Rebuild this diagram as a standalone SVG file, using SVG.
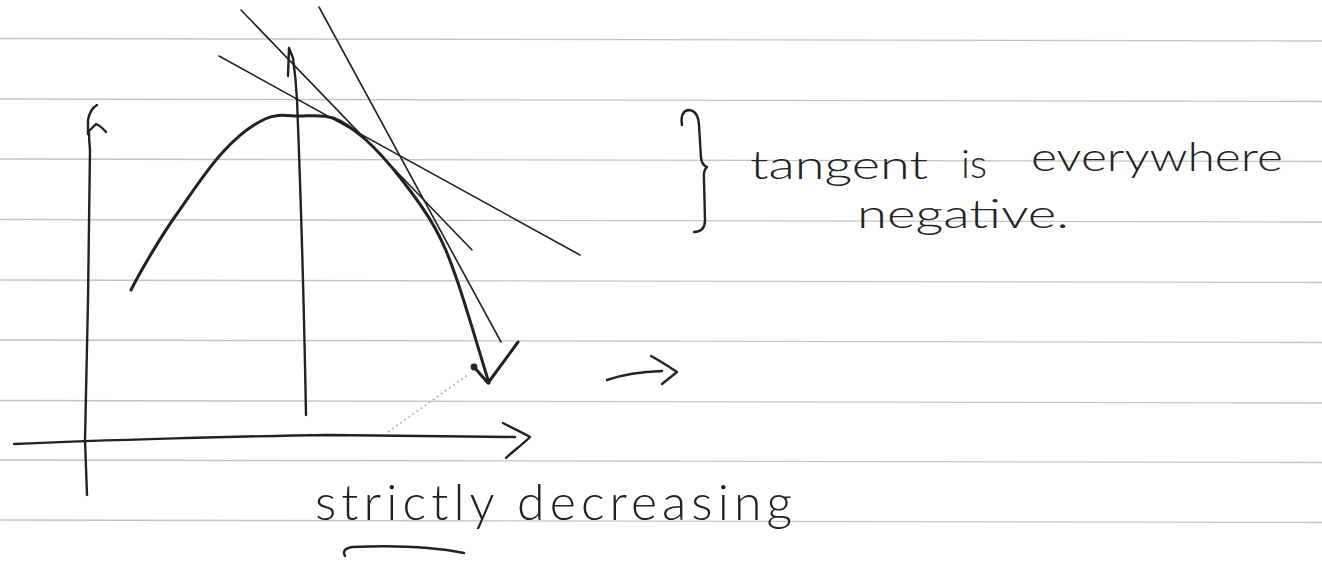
<svg xmlns="http://www.w3.org/2000/svg" width="1322" height="561" viewBox="0 0 1322 561">
<style>
.rule{stroke:#c4c4c4;stroke-width:1.3;fill:none}
.ink{stroke:#222;fill:none;stroke-linecap:round;stroke-linejoin:round}
.thick{stroke-width:3}
.med{stroke-width:2.4}
.thin{stroke-width:1.6}
.hand{font-family:Lato,"Open Sans","DejaVu Sans",sans-serif;font-weight:300;fill:#222}
.note{font-size:40px}
.faint{stroke:#b0b0b0;stroke-width:1.6;stroke-dasharray:2 3;fill:none}
</style>
<rect width="1322" height="561" fill="#fff"/>
<g id="paper">
<line class="rule" x1="0" y1="38.5" x2="1322" y2="41"/>
<line class="rule" x1="0" y1="99" x2="1322" y2="101.5"/>
<line class="rule" x1="0" y1="159" x2="1322" y2="161.5"/>
<line class="rule" x1="0" y1="219.5" x2="1322" y2="222"/>
<line class="rule" x1="0" y1="280" x2="1322" y2="282.5"/>
<line class="rule" x1="0" y1="340" x2="1322" y2="342.5"/>
<line class="rule" x1="0" y1="400.5" x2="1322" y2="403"/>
<line class="rule" x1="0" y1="460" x2="1322" y2="462.5"/>
<line class="rule" x1="0" y1="520" x2="1322" y2="522.5"/>
</g>
<g id="y-axis">
<path class="ink med" d="M97,105 Q90,109 88,120 L88,134"/>
<path class="ink med" d="M88,132 L96,124 Q101,126 106,132"/>
<path class="ink med" d="M89,132 Q89,140 90,150 L88,300 L85,440 L87,495"/>
</g>
<g id="x-axis">
<path class="ink med" d="M14,444 C100,440 250,436 330,435 L515,437"/>
</g>
<g id="parabola-axis">
<path class="ink med" d="M288,76 L289,48 L293,58 Q296,80 297,100 Q303,250 306,415"/>
</g>
<g id="curve">
<path class="ink thick" d="M131,290 C139,274 162,234 179,211 C194.3,189 208.7,167 223,152 C237.3,136.3 252.2,125 265,119 C277.8,113 288.7,116.2 300,116 C311.3,115.8 322,114.3 333,118 C344,122 354.5,129.7 366,140 C377.5,150.3 390.5,165.3 402,180 C413.5,194.7 425.8,211.3 435,228 C444.2,244.7 448.3,255.2 457,280 C465.7,304.8 482,360.8 489,383"/>
<path class="ink thick" d="M474,367 L488,383 L518,342"/>
<circle cx="474" cy="367" r="3.4" fill="#222"/>
</g>
<g id="tangents">
<line class="ink thin" x1="219" y1="56" x2="580" y2="255"/>
<line class="ink thin" x1="241" y1="10" x2="472" y2="250"/>
<line class="ink thin" x1="319" y1="7" x2="501" y2="342"/>
</g>
<path id="faint-trace" class="faint" d="M388,432 L469,374"/>
<g id="connectors">
<path class="ink med" d="M503,423 C512,428 522,432 530,437 C522,445 512,452 506,458"/>
<path class="ink med" d="M607,380 Q630,372 662,371"/>
<path class="ink med" d="M651,356 Q662,362 677,372 L662,384"/>
<path class="ink med" d="M464,553 Q420,544 352,547 Q341,549 345,556"/>
</g>
<g id="brace">
<path class="ink med" d="M682,125 Q680,112 688,110 Q698,110 699,125 L701,158 Q702,165 707,167 Q703,170 704,180 L705,220 Q705,232 694,232"/>
</g>
<g id="note">
<text class="hand note" x="750" y="179" textLength="178" lengthAdjust="spacingAndGlyphs">tangent</text>
<text class="hand note" x="961" y="178" textLength="26" lengthAdjust="spacingAndGlyphs">is</text>
<text class="hand note" x="1031" y="171" textLength="252" lengthAdjust="spacingAndGlyphs">everywhere</text>
<text class="hand note" x="857" y="228" textLength="212" lengthAdjust="spacingAndGlyphs">negative.</text>
</g>
<g id="caption">
<text class="hand" font-size="50" x="315" y="520" textLength="477" lengthAdjust="spacing">strictly decreasing</text>
</g>
</svg>
